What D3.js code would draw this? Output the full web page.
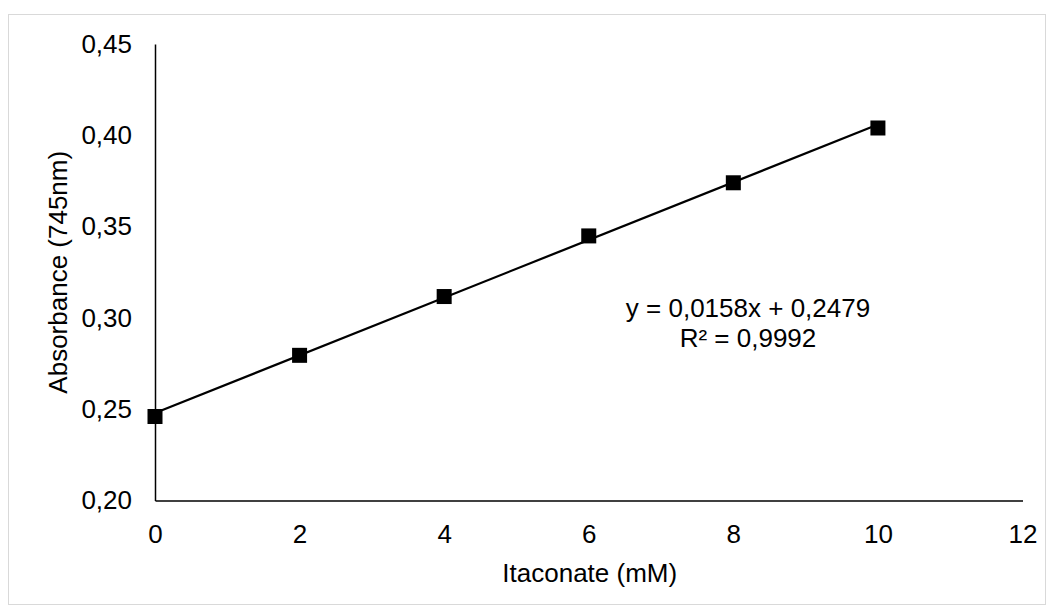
<!DOCTYPE html>
<html>
<head>
<meta charset="utf-8">
<script src="https://cdn.jsdelivr.net/npm/d3@7"></script>
<style>
  html, body { margin: 0; padding: 0; background: #fff; }
  svg { display: block; font-family: "Liberation Sans", Arial, sans-serif; }
</style>
</head>
<body>
<svg id="chart" width="1054" height="612"></svg>
<script>
// Itaconate standard curve (absorbance at 745 nm)
const concentrations = [0, 2, 4, 6, 8, 10];
const absorbance = [0.246, 0.2795, 0.3117, 0.3449, 0.374, 0.404];
const xTicks = [0, 2, 4, 6, 8, 10, 12];
const yTicks = [0.20, 0.25, 0.30, 0.35, 0.40, 0.45];
const fitSlope = 0.0158;
const fitIntercept = 0.2479;
const fitR2 = 0.9992;

const svg = d3.select("#chart");
const FS = 26;

// outer chart frame
svg.append("rect")
  .attr("x", 8.5).attr("y", 14.5)
  .attr("width", 1037).attr("height", 590)
  .attr("fill", "#fff").attr("stroke", "#d9d9d9").attr("stroke-width", 1);

const x = d3.scaleLinear().domain([0, 12]).range([155, 1022.5]);
const y = d3.scaleLinear().domain([0.20, 0.45]).range([500.5, 44]);

const comma = v => d3.format(".2f")(v).replace(".", ",");

// axes (no tick marks, labels only)
const xAxis = svg.append("g")
  .attr("transform", `translate(0,${y(0.20)})`)
  .call(d3.axisBottom(x).tickValues(xTicks).tickSize(0).tickPadding(24).tickFormat(d3.format("d")));
const yAxis = svg.append("g")
  .attr("transform", `translate(${x(0)},0)`)
  .call(d3.axisLeft(y).tickValues(yTicks).tickSize(0).tickPadding(23).tickFormat(comma));

[xAxis, yAxis].forEach(g => {
  g.attr("font-size", FS).attr("font-family", "'Liberation Sans', Arial, sans-serif");
  g.select(".domain").attr("stroke", "#000").attr("stroke-width", 1.5);
  g.selectAll("text").attr("fill", "#000");
});

// axis titles
svg.append("text")
  .attr("x", (x(0) + x(12)) / 2 + 1).attr("y", 582)
  .attr("text-anchor", "middle").attr("font-size", FS).attr("fill", "#000")
  .text("Itaconate (mM)");
svg.append("text")
  .attr("transform", `translate(67,${(y(0.20) + y(0.45)) / 2}) rotate(-90)`)
  .attr("text-anchor", "middle").attr("font-size", FS).attr("fill", "#000")
  .text("Absorbance (745nm)");

// linear trendline over the data range
const xr = d3.extent(concentrations);
svg.append("line")
  .attr("x1", x(xr[0])).attr("y1", y(fitIntercept + fitSlope * xr[0]))
  .attr("x2", x(xr[1])).attr("y2", y(fitIntercept + fitSlope * xr[1]))
  .attr("stroke", "#000").attr("stroke-width", 2.25);

// square markers
const ms = 15;
svg.append("g").selectAll("rect")
  .data(concentrations.map((c, i) => [c, absorbance[i]]))
  .join("rect")
  .attr("x", d => x(d[0]) - ms / 2).attr("y", d => y(d[1]) - ms / 2)
  .attr("width", ms).attr("height", ms).attr("fill", "#000");

// regression equation
const fmt4 = v => d3.format(".4f")(v).replace(".", ",");
const eq = svg.append("text").attr("text-anchor", "middle")
  .attr("font-size", FS).attr("fill", "#000");
eq.append("tspan").attr("x", 748).attr("y", 317)
  .text(`y = ${fmt4(fitSlope)}x + ${fmt4(fitIntercept)}`);
eq.append("tspan").attr("x", 748).attr("y", 347)
  .text(`R² = ${fmt4(fitR2)}`);
</script>
</body>
</html>
